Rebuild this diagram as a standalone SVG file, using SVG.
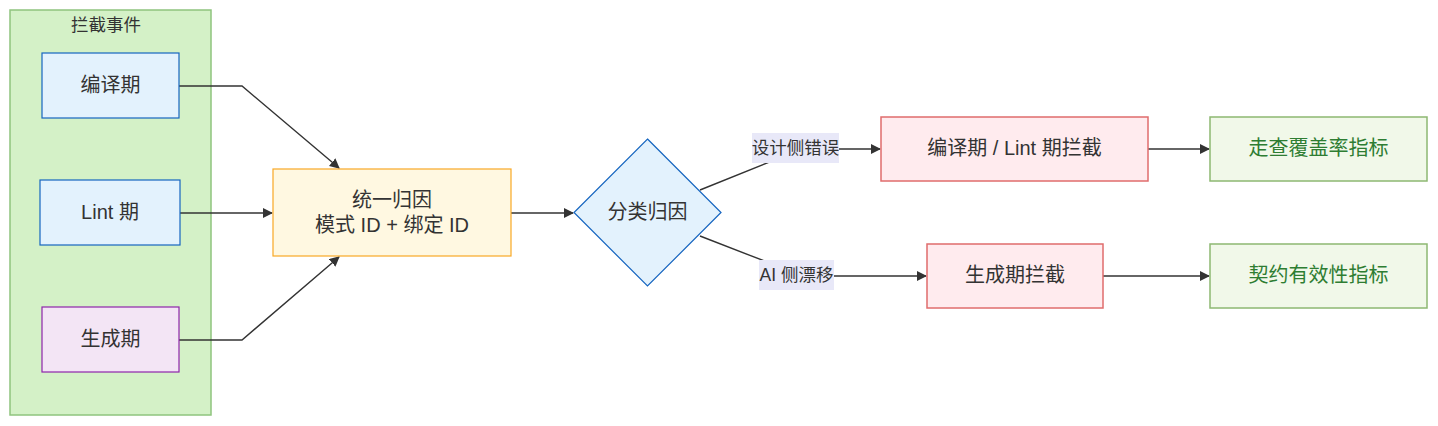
<svg xmlns="http://www.w3.org/2000/svg" width="1438" height="426" viewBox="0 0 1438 426">
<defs>
<marker id="arrow" viewBox="0 0 10 10" refX="9" refY="5" markerWidth="10" markerHeight="10" markerUnits="userSpaceOnUse" orient="auto">
<path d="M0,0 L10,5 L0,10 z" fill="#333"/>
</marker>
<style>
text{font-family:"Liberation Sans","Noto Sans CJK SC",sans-serif;fill:#333;text-anchor:middle;dominant-baseline:central}
.n{font-size:20px}
.l{font-size:17.5px}
.g{fill:#2e7d32}
.edge{fill:none;stroke:#333;stroke-width:1.4}
.blue{fill:#e3f2fd;stroke:#1565c0;stroke-width:1.2}
.purple{fill:#f3e5f5;stroke:#8e24aa;stroke-width:1.2}
.yellow{fill:#fff8e1;stroke:#f9a825;stroke-width:1.2}
.red{fill:#ffebee;stroke:#e06c6c;stroke-width:1.5}
.green{fill:#f1f8e9;stroke:#8db872;stroke-width:1.5}
.lbl{fill:#e8e8f8}
</style>
</defs>
<g id="cluster">
<rect x="10" y="10" width="201" height="405" fill="#d4f1c7" stroke="#8fc47e" stroke-width="1.5"/>
<text class="l" x="106" y="25">拦截事件</text>
</g>
<g id="connectors">
<path class="edge" d="M179,86 L242,86 L339,168" marker-end="url(#arrow)"/>
<path class="edge" d="M180,213 L272,213" marker-end="url(#arrow)"/>
<path class="edge" d="M179,340 L242,340 L339,257" marker-end="url(#arrow)"/>
<path class="edge" d="M511,213 L573,213" marker-end="url(#arrow)"/>
<path class="edge" d="M700,190 L802,149 L880,149" marker-end="url(#arrow)"/>
<path class="edge" d="M700,236 L803,276 L926,276" marker-end="url(#arrow)"/>
<path class="edge" d="M1148,149 L1209,149" marker-end="url(#arrow)"/>
<path class="edge" d="M1103,276 L1209,276" marker-end="url(#arrow)"/>
<g id="label1"><rect class="lbl" x="752" y="133" width="87" height="30"/><text class="l" x="795.5" y="148">设计侧错误</text></g>
<g id="label2"><rect class="lbl" x="759" y="260" width="75" height="30"/><text class="l" x="796.5" y="275">AI 侧漂移</text></g>
</g>
<g id="n1"><rect class="blue" x="42" y="53" width="137" height="65"/><text class="n" x="110.5" y="85">编译期</text></g>
<g id="n2"><rect class="blue" x="40" y="180" width="140" height="65"/><text class="n" x="110" y="212">Lint 期</text></g>
<g id="n3"><rect class="purple" x="42" y="307" width="137" height="65"/><text class="n" x="110.5" y="339">生成期</text></g>
<g id="n4"><rect class="yellow" x="273" y="169" width="238" height="87"/><text class="n" x="392" y="200">统一归因</text><text class="n" x="392" y="225">模式 ID + 绑定 ID</text></g>
<g id="n5"><polygon class="blue" points="647.5,139 721,212.5 647.5,286 574,212.5"/><text class="n" x="647.5" y="212">分类归因</text></g>
<g id="n6"><rect class="red" x="881" y="117" width="267" height="64"/><text class="n" x="1014.5" y="148">编译期 / Lint 期拦截</text></g>
<g id="n7"><rect class="red" x="927" y="244" width="176" height="64"/><text class="n" x="1015" y="275">生成期拦截</text></g>
<g id="n8"><rect class="green" x="1210" y="117" width="217" height="64"/><text class="n g" x="1318.5" y="148">走查覆盖率指标</text></g>
<g id="n9"><rect class="green" x="1210" y="244" width="217" height="64"/><text class="n g" x="1318.5" y="275">契约有效性指标</text></g>
</svg>
